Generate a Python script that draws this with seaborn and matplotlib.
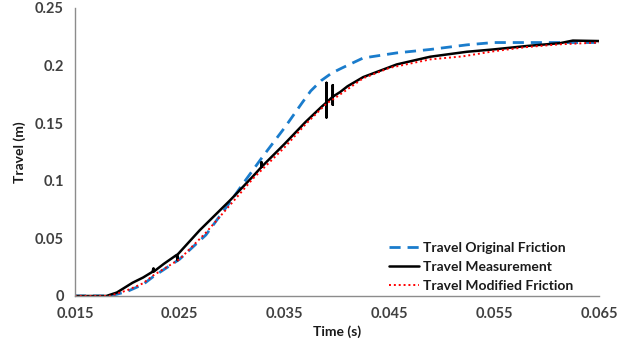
import matplotlib
matplotlib.use("Agg")
import matplotlib.pyplot as plt
import seaborn as sns
import pandas as pd

# Travel Original Friction (blue dashed)
orig_t = [0.015, 0.0183, 0.019, 0.020, 0.0215, 0.0225, 0.025, 0.0275, 0.030, 0.031,
          0.033, 0.035, 0.0367, 0.0375, 0.0385, 0.0395, 0.0405, 0.0425, 0.0457, 0.0489,
          0.0524, 0.0549, 0.0581, 0.0613, 0.065]
orig_y = [0.0, 0.0, 0.0015, 0.004, 0.010, 0.017, 0.032, 0.053, 0.084, 0.097,
          0.122, 0.146, 0.168, 0.178, 0.187, 0.1935, 0.198, 0.2066, 0.211, 0.214,
          0.218, 0.220, 0.220, 0.220, 0.220]

# Travel Measurement (black solid) - includes measurement spikes
meas_t = [0.015, 0.018, 0.019, 0.0205, 0.0215, 0.0224, 0.0225, 0.0225, 0.0235,
          0.0247, 0.0248, 0.0248, 0.0269, 0.0298, 0.032, 0.0328, 0.0328, 0.0328,
          0.035, 0.037, 0.0385, 0.039, 0.039, 0.039, 0.039, 0.0396, 0.0396,
          0.0396, 0.0396, 0.0403, 0.041, 0.0425, 0.0457, 0.0489, 0.0524, 0.0549,
          0.0581, 0.0613, 0.0625, 0.065]
meas_y = [0.0, 0.0, 0.003, 0.0115, 0.016, 0.021, 0.024, 0.021, 0.028,
          0.0356, 0.031, 0.036, 0.057, 0.083, 0.104, 0.112, 0.116, 0.112,
          0.132, 0.151, 0.164, 0.168, 0.185, 0.155, 0.168, 0.173, 0.183,
          0.166, 0.173, 0.177, 0.182, 0.190, 0.201, 0.2077, 0.212, 0.214,
          0.217, 0.2195, 0.2217, 0.2213]

# Travel Modified Friction (red dotted)
mod_t = [0.015, 0.0183, 0.019, 0.020, 0.0215, 0.0225, 0.025, 0.0275, 0.030, 0.032,
         0.035, 0.037, 0.039, 0.040, 0.0425, 0.045, 0.0489, 0.052, 0.055, 0.058,
         0.0613, 0.065]
mod_y = [0.0, 0.0, 0.002, 0.005, 0.011, 0.018, 0.032, 0.055, 0.081, 0.102,
         0.129, 0.149, 0.167, 0.173, 0.189, 0.198, 0.2054, 0.208, 0.2125, 0.216,
         0.2185, 0.220]

sns.set_theme(style="white")
plt.rcParams['font.family'] = ['Lato', 'DejaVu Sans']

fig = plt.figure(figsize=(6.4, 3.47), dpi=100)
ax = fig.add_axes([0.117, 0.147, 0.819, 0.83])

df_o = pd.DataFrame({"t": orig_t, "y": orig_y})
df_m = pd.DataFrame({"t": meas_t, "y": meas_y})
df_r = pd.DataFrame({"t": mod_t, "y": mod_y})

sns.lineplot(data=df_o, x="t", y="y", ax=ax, sort=False, estimator=None,
             color="#1a7ccc", lw=2.0, linestyle=(0, (4, 2.5)), label="Travel Original Friction")
sns.lineplot(data=df_m, x="t", y="y", ax=ax, sort=False, estimator=None,
             color="black", lw=1.8, label="Travel Measurement")
sns.lineplot(data=df_r, x="t", y="y", ax=ax, sort=False, estimator=None,
             color="#ff0000", lw=1.4, linestyle=(0, (1, 1.5)), label="Travel Modified Friction")

ax.set_xlim(0.015, 0.065)
ax.set_ylim(0, 0.25)
ax.set_xticks([0.015, 0.025, 0.035, 0.045, 0.055, 0.065])
ax.set_xticklabels(["0.015", "0.025", "0.035", "0.045", "0.055", "0.065"])
ax.set_yticks([0, 0.05, 0.1, 0.15, 0.2, 0.25])
ax.set_yticklabels(["0", "0.05", "0.1", "0.15", "0.2", "0.25"])
ax.tick_params(axis="both", length=0, labelsize=10.5, colors="#404040", pad=8)
for lab in ax.get_xticklabels() + ax.get_yticklabels():
    lab.set_fontweight("bold")
ax.set_xlabel("Time (s)", fontsize=10, fontweight="bold", color="#1a1a1a", labelpad=3)
ax.set_ylabel("Travel (m)", fontsize=10, fontweight="bold", color="#1a1a1a", labelpad=6)

for s in ["top", "right"]:
    ax.spines[s].set_visible(False)
for s in ["left", "bottom"]:
    ax.spines[s].set_color("#8c8c8c")
    ax.spines[s].set_linewidth(1.0)
ax.grid(False)

leg = ax.legend(loc="lower right", bbox_to_anchor=(0.97, -0.02), frameon=False,
                fontsize=10, handlelength=2.2, handletextpad=0.3, labelspacing=0.5,
                borderpad=0.2)
for t in leg.get_texts():
    t.set_fontweight("bold")
    t.set_color("#1a1a1a")

fig.savefig("out.png", dpi=100)
